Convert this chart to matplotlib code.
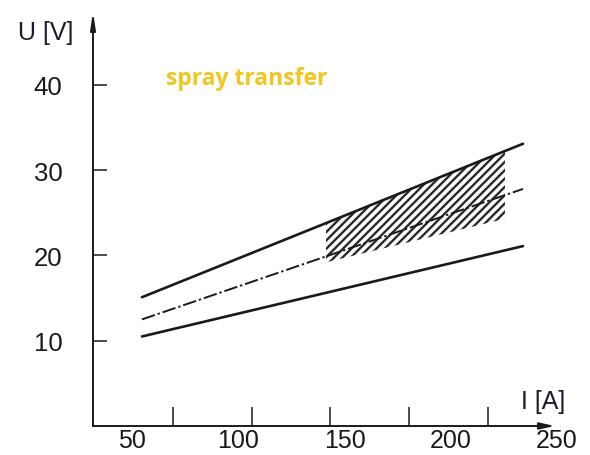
import numpy as np
import matplotlib
matplotlib.use("Agg")
import matplotlib.pyplot as plt

## Data (I in A, U in V)

line_i = [54.7, 234.0]
upper_u = [15.1, 33.1]
middle_u = [12.5, 27.8]
lower_u = [10.5, 21.1]

hatch_i = [141.3, 225.5]
hatch_top = [23.8, 32.2]
hatch_bottom = [19.2, 24.3]

x_labels = [50, 100, 150, 200, 250]
y_ticks = [10, 20, 30, 40]
# tick marks on the current axis sit off the printed labels in the original
x_marks = [69.3, 106.4, 143.1, 180.2, 217.4]

plt.rcParams['font.family'] = ['Liberation Sans', 'DejaVu Sans']
plt.rcParams['hatch.linewidth'] = 1.7

fig = plt.figure(figsize=(5.9, 4.56), dpi=100)
ax = fig.add_axes([0.1576, 0.0636, 0.8085, 0.935])
x0, x1 = 31.65, 256.1
ax.set_xlim(x0, x1)
ax.set_ylim(0, 50)

for s in ax.spines.values():
    s.set_visible(False)

ink = '#1a1a1a'

# axes drawn as arrows
ax.annotate('', xy=(249.0, 0), xytext=(x0, 0),
            arrowprops=dict(arrowstyle='-|>,head_length=0.9,head_width=0.2', color=ink, lw=1.4,
                            shrinkA=0, shrinkB=0), annotation_clip=False)
ax.annotate('', xy=(x0, 48.6), xytext=(x0, 0),
            arrowprops=dict(arrowstyle='-|>,head_length=1.0,head_width=0.15', color=ink, lw=1.4,
                            shrinkA=0, shrinkB=0), annotation_clip=False)

# hatched spray transfer range
ax.fill_between(hatch_i, hatch_bottom, hatch_top, facecolor='white', edgecolor='#2a2a2a',
                hatch='////', linewidth=0, zorder=2)

ax.plot(line_i, upper_u, color=ink, lw=1.9, solid_capstyle='round', zorder=3)
ax.plot(line_i, lower_u, color=ink, lw=1.9, solid_capstyle='round', zorder=3)
ax.plot(line_i, middle_u, color=ink, lw=1.4, linestyle=(0, (7, 1.5, 1.2, 1.5)), zorder=3)

ax.set_yticks(y_ticks)
ax.set_yticklabels([str(v) for v in y_ticks])
ax.tick_params(axis='y', direction='in', length=10, width=1.1, color=ink,
               labelsize=18.5, pad=22, labelcolor=ink)

ax.set_xticks(x_labels)
ax.set_xticklabels([str(v) for v in x_labels])
ax.tick_params(axis='x', which='major', length=0, labelsize=18, pad=1.5, labelcolor=ink)
ax.set_xticks(x_marks, minor=True)
ax.tick_params(axis='x', which='minor', direction='in', length=14, width=1.1, color=ink)

ax.text(-0.157, 0.924, 'U [V]', transform=ax.transAxes, fontsize=18, color='#1c1c2e',
        ha='left', va='center')
ax.text(0.943, 0.058, 'I [A]', transform=ax.transAxes, fontsize=18, color='#1c1c2e',
        ha='center', va='center')
ax.text(0.322, 0.817, 'spray transfer', transform=ax.transAxes, fontsize=16.5,
        family=['Open Sans', 'DejaVu Sans'], fontweight='bold', color='#f2c521',
        ha='center', va='center')

fig.savefig('out.png', dpi=100)
